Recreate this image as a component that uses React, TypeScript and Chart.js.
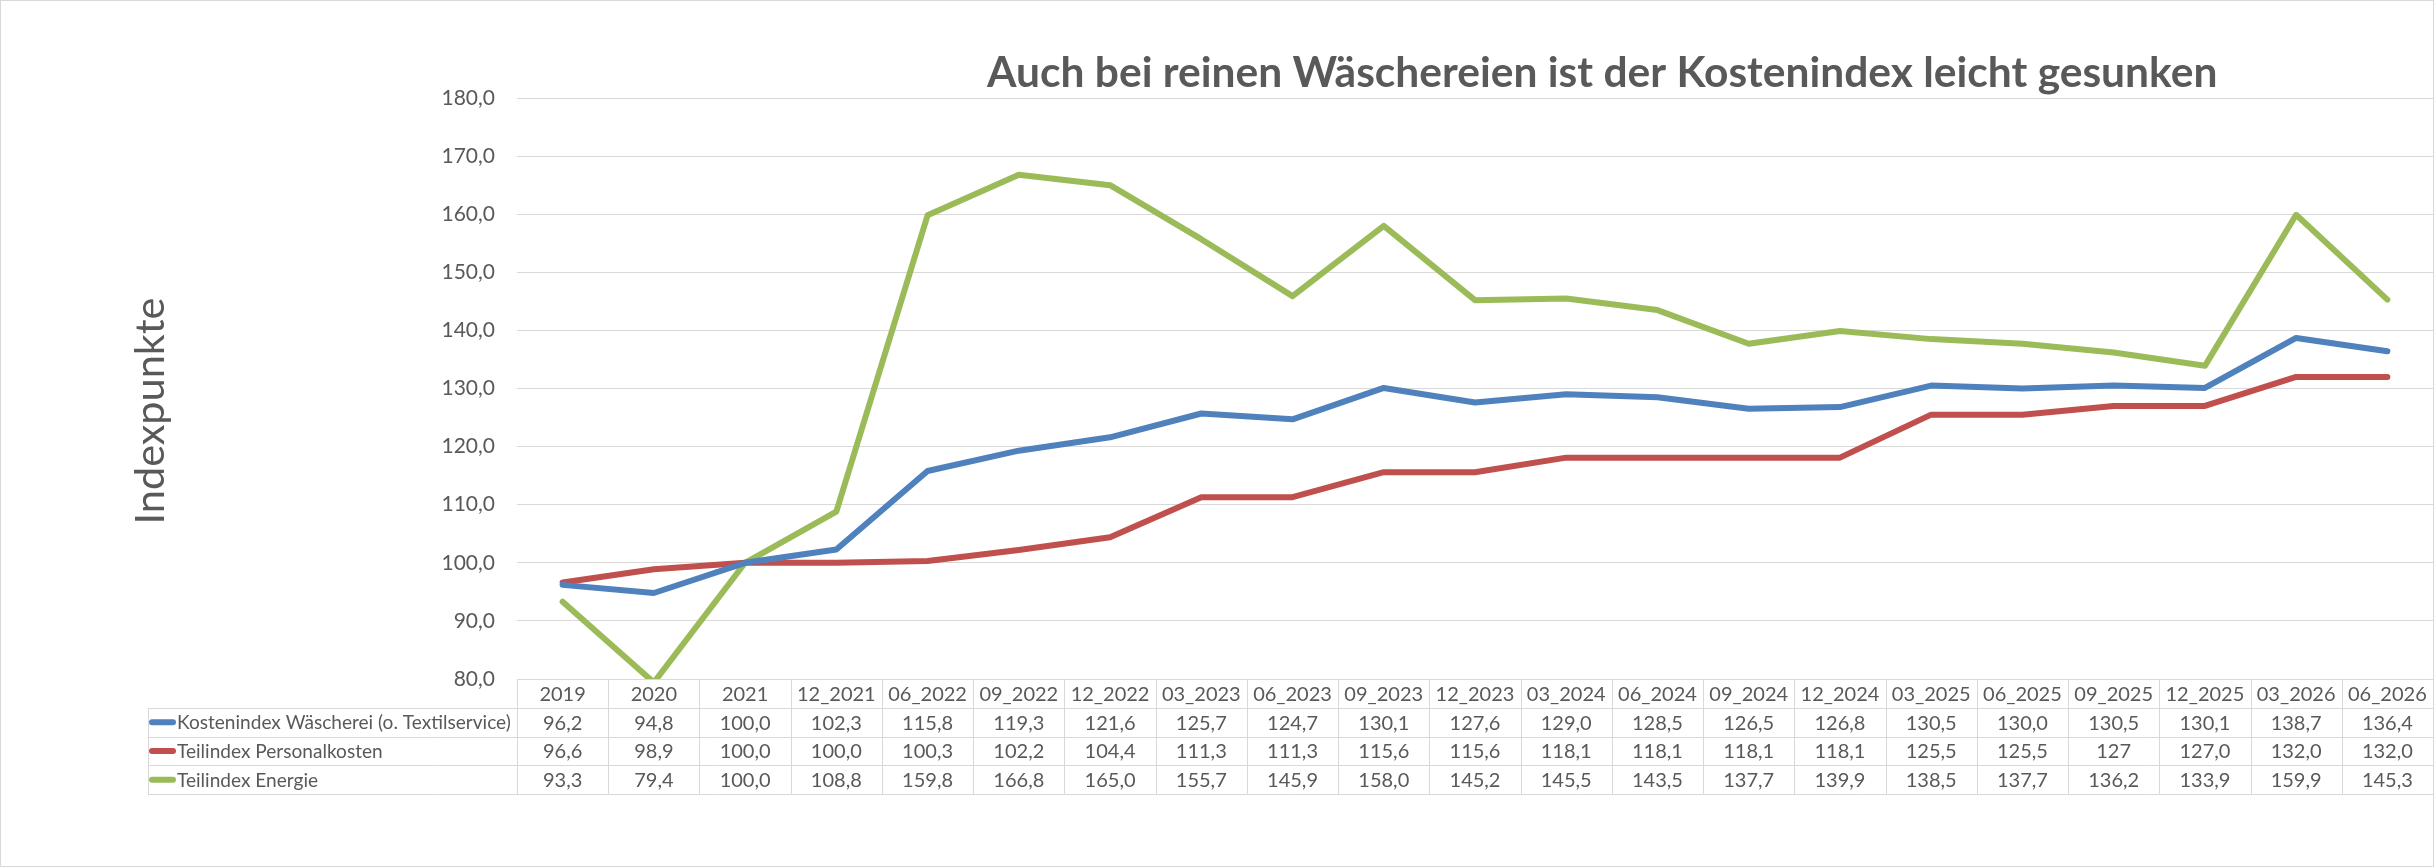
import { useEffect, useRef } from 'react';
import { Chart, registerables } from 'chart.js';

Chart.register(...registerables);

const categories = ['2019', '2020', '2021', '12_2021', '06_2022', '09_2022', '12_2022', '03_2023', '06_2023', '09_2023', '12_2023', '03_2024', '06_2024', '09_2024', '12_2024', '03_2025', '06_2025', '09_2025', '12_2025', '03_2026', '06_2026'];
const kostenindex = [96.2, 94.8, 100.0, 102.3, 115.8, 119.3, 121.6, 125.7, 124.7, 130.1, 127.6, 129.0, 128.5, 126.5, 126.8, 130.5, 130.0, 130.5, 130.1, 138.7, 136.4];
const personalkosten = [96.6, 98.9, 100.0, 100.0, 100.3, 102.2, 104.4, 111.3, 111.3, 115.6, 115.6, 118.1, 118.1, 118.1, 118.1, 125.5, 125.5, 127, 127.0, 132.0, 132.0];
const energie = [93.3, 79.4, 100.0, 108.8, 159.8, 166.8, 165.0, 155.7, 145.9, 158.0, 145.2, 145.5, 143.5, 137.7, 139.9, 138.5, 137.7, 136.2, 133.9, 159.9, 145.3];
// cells that the source table shows without a decimal: [row, column]
const plainCells = [[1, 17]];

const seriesNames = ['Kostenindex Wäscherei (o. Textilservice)', 'Teilindex Personalkosten', 'Teilindex Energie'];
const seriesColors = ['#4F81BD', '#C0504D', '#9BBB59'];
const titleText = 'Auch bei reinen Wäschereien ist der Kostenindex leicht gesunken';
const yTitle = 'Indexpunkte';

const TEXT = '#595959';
const LINE = '#D9D9D9';
const FONT = 'Lato, "Open Sans", sans-serif';

const fmt = (v: number) => v.toFixed(1).replace('.', ',');

// fit a font size so the text spans a given width
const fitFont = (ctx: CanvasRenderingContext2D, text: string, weight: string, width: number) => {
  ctx.font = `${weight} 40px ${FONT}`;
  const w = ctx.measureText(text).width;
  return `${weight} ${(40 * width) / w}px ${FONT}`;
};

const tablePlugin = {
  id: 'dataTable',
  afterDraw(chart: Chart) {
    const { ctx, chartArea } = chart;
    const x = chart.scales.x;
    const rows = [kostenindex, personalkosten, energie];
    const top = chartArea.bottom;
    const rowH = 28.75;
    const colW = (chartArea.right - chartArea.left) / categories.length;
    const legendLeft = 148;

    ctx.save();
    // outer border
    ctx.strokeStyle = LINE;
    ctx.lineWidth = 1;
    ctx.strokeRect(0.5, 0.5, chart.width - 1, chart.height - 1);

    // grid of the table
    ctx.beginPath();
    ctx.moveTo(chartArea.left, top + 0.5);
    ctx.lineTo(chartArea.right, top + 0.5);
    for (let r = 1; r <= 4; r++) {
      const y = Math.round(top + r * rowH) + 0.5;
      ctx.moveTo(legendLeft, y);
      ctx.lineTo(chartArea.right, y);
    }
    for (let c = 0; c <= categories.length; c++) {
      const xx = Math.round(chartArea.left + c * colW) + 0.5;
      ctx.moveTo(xx, top);
      ctx.lineTo(xx, top + 4 * rowH);
    }
    ctx.moveTo(legendLeft + 0.5, top + rowH);
    ctx.lineTo(legendLeft + 0.5, top + 4 * rowH);
    ctx.stroke();

    ctx.fillStyle = TEXT;
    ctx.textBaseline = 'middle';
    ctx.textAlign = 'center';
    ctx.font = `20px ${FONT}`;
    categories.forEach((cat, i) => {
      ctx.fillText(cat, x.getPixelForValue(i), top + rowH / 2 + 1);
    });
    rows.forEach((vals, r) => {
      const cy = top + (r + 1.5) * rowH + 1;
      vals.forEach((v, i) => {
        const plain = plainCells.some(([pr, pc]) => pr === r && pc === i);
        ctx.fillText(plain ? String(v) : fmt(v), x.getPixelForValue(i), cy);
      });
    });

    // legend keys and series names
    ctx.textAlign = 'left';
    const legendFont = fitFont(ctx, seriesNames[0], 'normal', 334);
    ctx.font = legendFont;
    seriesNames.forEach((name, r) => {
      const cy = top + (r + 1.5) * rowH;
      ctx.strokeStyle = seriesColors[r];
      ctx.lineWidth = 6;
      ctx.lineCap = 'round';
      ctx.beginPath();
      ctx.moveTo(legendLeft + 4, cy);
      ctx.lineTo(legendLeft + 25, cy);
      ctx.stroke();
      ctx.fillText(name, legendLeft + 29, cy + 1);
    });

    // title
    ctx.textAlign = 'left';
    ctx.textBaseline = 'alphabetic';
    ctx.font = fitFont(ctx, titleText, 'bold', 1231);
    ctx.fillText(titleText, 987, 87);

    // y axis title
    ctx.font = fitFont(ctx, yTitle, 'normal', 227);
    ctx.translate(151, 411);
    ctx.rotate(-Math.PI / 2);
    ctx.textAlign = 'center';
    ctx.textBaseline = 'middle';
    ctx.fillText(yTitle, 0, 0);
    ctx.restore();
  }
};

export default function App() {
  const canvasRef = useRef<HTMLCanvasElement>(null);

  useEffect(() => {
    if (!canvasRef.current) return;
    const chart = new Chart(canvasRef.current, {
      type: 'line',
      data: {
        labels: categories,
        datasets: [kostenindex, personalkosten, energie].map((data, i) => ({
          label: seriesNames[i],
          data,
          borderColor: seriesColors[i],
          backgroundColor: seriesColors[i],
          borderWidth: 6,
          borderCapStyle: 'round' as const,
          borderJoinStyle: 'round' as const,
          pointRadius: 0,
          tension: 0,
          fill: false
        }))
      },
      options: {
        responsive: false,
        animation: false,
        devicePixelRatio: 1,
        layout: { padding: { top: 98, bottom: 188, right: 1, left: 0 } },
        plugins: {
          legend: { display: false },
          title: { display: false },
          tooltip: { enabled: false }
        },
        scales: {
          x: {
            display: false,
            offset: true,
            grid: { display: false }
          },
          y: {
            min: 80,
            max: 180,
            afterFit: (scale: any) => { scale.width = 517; },
            border: { display: false },
            grid: { color: LINE, lineWidth: 1, drawTicks: false },
            ticks: {
              stepSize: 10,
              padding: 22,
              color: TEXT,
              font: { family: FONT, size: 21 },
              callback: (v: any) => fmt(Number(v))
            }
          }
        }
      },
      plugins: [tablePlugin]
    });
    return () => chart.destroy();
  }, []);

  return (
    <div style={{ position: 'absolute', left: 0, top: 0, width: 2434, height: 867, background: '#fff' }}>
      <canvas ref={canvasRef} width={2434} height={867} style={{ width: 2434, height: 867, display: 'block' }} />
    </div>
  );
}
